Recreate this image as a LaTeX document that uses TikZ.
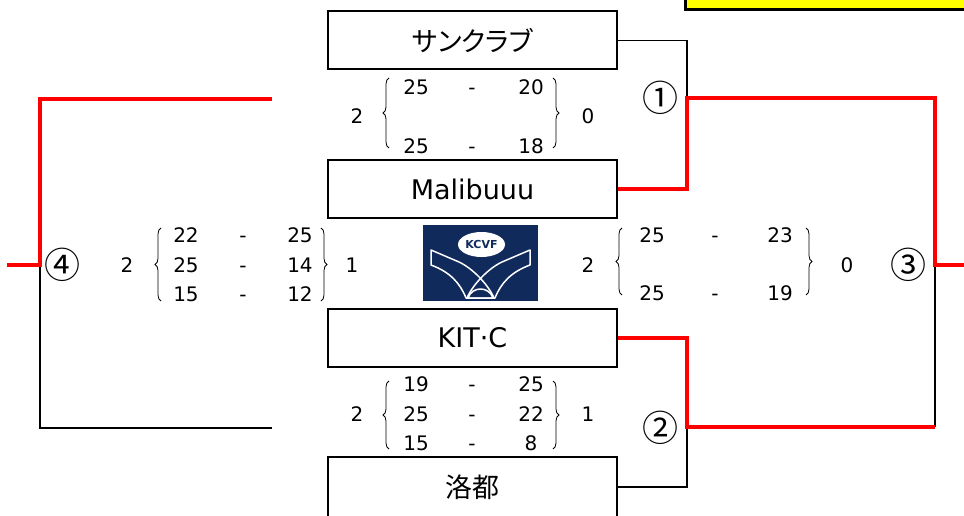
\documentclass[tikz,border=0pt]{standalone}
\usepackage{fontspec}
\setmainfont{DejaVu Sans}
\newfontfamily\jpfont{Noto Sans CJK JP}
\newfontfamily\jppfont[RawFeature=+palt]{Noto Sans CJK JP}
\usetikzlibrary{decorations.pathreplacing,shapes.geometric}
\definecolor{kred}{RGB}{255,0,0}
\definecolor{navy}{RGB}{16,42,92}
\definecolor{kyellow}{RGB}{255,255,0}
\begin{document}
\begin{tikzpicture}[x=1pt,y=-1pt,
 team/.style={draw=black, line width=2pt, minimum width=289pt, minimum height=58pt, inner sep=0pt, font=\fontsize{27}{30}\selectfont},
 score/.style={font=\fontsize{20}{22}\selectfont, inner sep=0pt, text height=14.6pt, text depth=0pt},
 circnum/.style={font=\jpfont\fontsize{36}{38}\selectfont, inner sep=0pt},
 wire/.style={line width=1.5pt, black},
 win/.style={line width=4pt, kred},
 sbrace/.style={decorate, decoration={brace, amplitude=6pt}, line width=0.8pt},
 wing/.style={draw=white, line width=1.5pt, line join=round},
]
\useasboundingbox (0,0) rectangle (964,516);
\clip (0,0) rectangle (964,516);

% yellow box (top right, cut off)
\node[draw=black, line width=3pt, fill=kyellow, minimum width=300pt, minimum height=40pt, inner sep=0pt] (ybox) at (835.5,-10) {};

% team boxes
\node[team] (t1) at (472.5,40.5) {\jppfont サンクラブ};
\node[team] (t2) at (472.5,189) {Malibuuu};
\node[team] (t3) at (472.5,337.5) {KIT·C};
\node[team, minimum height=60pt] (t4) at (472.5,487) {\jpfont 洛都};

% junction coordinates
\coordinate (j1) at (687,98);
\coordinate (j2) at (687,427);
\coordinate (j3) at (935,265);
\coordinate (j4) at (40,265);
\coordinate (c3t) at (935,98);
\coordinate (c3b) at (935,427);
\coordinate (c4t) at (40,99);
\coordinate (c4b) at (40,428);
\coordinate (l4top) at (272,99);
\coordinate (l4bot) at (272,428);
\coordinate (outR) at (966,265);
\coordinate (outL) at (7,265);

% losing lines
\draw[wire] (t1.east) -| (j1);
\draw[wire] (t4.east) -| (j2);
\draw[wire] (j3) -- (c3b);
\draw[wire] (j4) -- (c4b) -- (l4bot);

% winning lines
\draw[win] (t2.east) -| (j1) -- (c3t) -- (j3) -- (outR);
\draw[win] (t3.east) -| (j2) -- (c3b);
\draw[win] (l4top) -- (c4t) -- (j4) -- (outL);

% circled match numbers
\node[circnum] (n1) at (660,98) {①};
\node[circnum] (n2) at (660,428) {②};
\node[circnum] (n3) at (908,265) {③};
\node[circnum] (n4) at (62,265) {④};

% match 1 score
\node[score] (m1w) at (357,116) {2};
\node[score] (m1l) at (588,116) {0};
\node[score] (m1a1) at (416,87) {25};
\node[score] (m1d1) at (472,87) {-};
\node[score] (m1b1) at (531,87) {20};
\node[score] (m1a2) at (416,146) {25};
\node[score] (m1d2) at (472,146) {-};
\node[score] (m1b2) at (531,146) {18};
\draw[sbrace] (389,148) -- (389,78);
\draw[sbrace] (553,78) -- (553,148);

% match 2 score
\node[score] (m2w) at (357,414) {2};
\node[score] (m2l) at (588,414) {1};
\node[score] (m2a1) at (416,384) {19};
\node[score] (m2d1) at (472,384) {-};
\node[score] (m2b1) at (531,384) {25};
\node[score] (m2a2) at (416,414) {25};
\node[score] (m2d2) at (472,414) {-};
\node[score] (m2b2) at (531,414) {22};
\node[score] (m2a3) at (416,443) {15};
\node[score] (m2d3) at (472,443) {-};
\node[score] (m2b3) at (531,443) {8};
\draw[sbrace] (389,449) -- (389,381);
\draw[sbrace] (553,381) -- (553,449);

% match 4 score (left)
\node[score] (m4w) at (127,265) {2};
\node[score] (m4l) at (352,265) {1};
\node[score] (m4a1) at (186,235) {22};
\node[score] (m4d1) at (243,235) {-};
\node[score] (m4b1) at (300,235) {25};
\node[score] (m4a2) at (186,265) {25};
\node[score] (m4d2) at (243,265) {-};
\node[score] (m4b2) at (300,265) {14};
\node[score] (m4a3) at (186,294) {15};
\node[score] (m4d3) at (243,294) {-};
\node[score] (m4b3) at (300,294) {12};
\draw[sbrace] (161,301) -- (161,228);
\draw[sbrace] (321,228) -- (321,301);

% match 3 score (right)
\node[score] (m3w) at (588,265) {2};
\node[score] (m3l) at (847,265) {0};
\node[score] (m3a1) at (652,235) {25};
\node[score] (m3d1) at (715,235) {-};
\node[score] (m3b1) at (780,235) {23};
\node[score] (m3a2) at (652,293) {25};
\node[score] (m3d2) at (715,293) {-};
\node[score] (m3b2) at (780,293) {19};
\draw[sbrace] (622,295) -- (622,228);
\draw[sbrace] (806,228) -- (806,295);

% logo
\node[fill=navy, minimum width=115pt, minimum height=76pt, inner sep=0pt] (logo) at (480.5,263) {};
\begin{scope}
\clip (423,225) rectangle (538,301);
% left wing
\draw[wing] (431,250) -- (459,262) .. controls (472,268) and (488,284) .. (494,298)
  -- (466,298) .. controls (460,283) and (450,272) .. (431,265) -- cycle;
% right wing
\draw[wing] (530,250) -- (502,262) .. controls (489,268) and (473,284) .. (467,298)
  -- (495,298) .. controls (501,283) and (511,272) .. (530,265) -- cycle;
% arch
\draw[wing] (468,298) .. controls (472,286) and (489,286) .. (493,298);
\end{scope}
\node[ellipse, fill=white, minimum width=47pt, minimum height=25pt, inner sep=0pt, text=navy, font=\bfseries\fontsize{11}{12}\selectfont] (kcvf) at (481.5,244.5) {KCVF};
\end{tikzpicture}
\end{document}
